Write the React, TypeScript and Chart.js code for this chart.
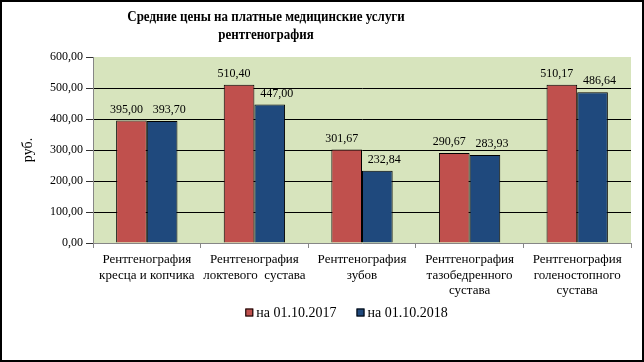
import React, { useEffect, useRef } from "react";
import { Chart, registerables } from "chart.js";

Chart.register(...registerables);

const TITLE_LINES = ["Средние цены на платные медицинские услуги", "рентгенография"];
const CATEGORIES: string[][] = [
  ["Рентгенография", "кресца и копчика"],
  ["Рентгенография", "локтевого  сустава"],
  ["Рентгенография", "зубов"],
  ["Рентгенография", "тазобедренного", "сустава"],
  ["Рентгенография", "голеностопного", "сустава"],
];
const SERIES_LABELS = ["на 01.10.2017", "на 01.10.2018"];
const SERIES_2017 = [395.0, 510.4, 301.67, 290.67, 510.17];
const SERIES_2018 = [393.7, 447.0, 232.84, 283.93, 486.64];
const Y_TITLE = "руб.";
const Y_MIN = 0;
const Y_MAX = 600;
const Y_STEP = 100;

const COLORS = ["#C0504D", "#1F497D"];
const PLOT_BG = "#D7E4BD";
const AXIS_GRAY = "#868686";
const FONT = "'Liberation Serif', 'DejaVu Serif', serif";

const fmt = (v: number) => v.toFixed(2).replace(".", ",");

const frameAndBgPlugin = {
  id: "frameAndBg",
  beforeDraw(chart: any) {
    const { ctx, chartArea } = chart;
    ctx.save();
    ctx.fillStyle = "#fff";
    ctx.fillRect(0, 0, chart.width, chart.height);
    ctx.fillStyle = PLOT_BG;
    ctx.fillRect(chartArea.left, chartArea.top, chartArea.right - chartArea.left, chartArea.bottom - chartArea.top);
    ctx.restore();
  },
  afterDraw(chart: any) {
    const { ctx } = chart;
    ctx.save();
    ctx.strokeStyle = "#000";
    ctx.lineWidth = 2;
    ctx.strokeRect(1, 1, chart.width - 2, chart.height - 2);
    ctx.restore();
  },
};

const titlePlugin = {
  id: "customTitle",
  afterDraw(chart: any) {
    const { ctx } = chart;
    ctx.save();
    ctx.fillStyle = "#000";
    ctx.font = `bold 15px ${FONT}`;
    ctx.textAlign = "center";
    ctx.textBaseline = "middle";
    const ys = [17, 35];
    TITLE_LINES.forEach((t, i) => {
      ctx.save();
      ctx.translate(266, ys[i]);
      ctx.scale(0.865, 1);
      ctx.fillText(t, 0, 0);
      ctx.restore();
    });
    ctx.restore();
  },
};

const legendPlugin = {
  id: "customLegend",
  afterDraw(chart: any) {
    const { ctx } = chart;
    ctx.save();
    ctx.font = `14px ${FONT}`;
    ctx.textBaseline = "middle";
    ctx.textAlign = "left";
    const box = 8;
    const boxGap = 3;
    const itemGap = 20;
    const ds = chart.data.datasets;
    const widths = ds.map((d: any) => box + boxGap + ctx.measureText(d.label).width);
    const total = widths.reduce((a: number, b: number) => a + b, 0) + itemGap * (ds.length - 1);
    let x = 346.5 - total / 2;
    const cy = 313;
    ds.forEach((d: any, i: number) => {
      ctx.fillStyle = d.backgroundColor;
      ctx.fillRect(x, cy - 4.5, box, box);
      ctx.strokeStyle = "#000";
      ctx.lineWidth = 1;
      ctx.strokeRect(x + 0.5, cy - 4, box - 1, box - 1);
      ctx.fillStyle = "#000";
      ctx.fillText(d.label, x + box + boxGap, cy);
      x += widths[i] + itemGap;
    });
    ctx.restore();
  },
};

const dataLabelPlugin = {
  id: "dataLabels",
  afterDatasetsDraw(chart: any) {
    const { ctx } = chart;
    const offsets = [-5, 7];
    ctx.save();
    ctx.font = `12px ${FONT}`;
    ctx.fillStyle = "#000";
    ctx.textAlign = "center";
    ctx.textBaseline = "bottom";
    chart.data.datasets.forEach((d: any, di: number) => {
      const meta = chart.getDatasetMeta(di);
      meta.data.forEach((bar: any, i: number) => {
        ctx.fillText(fmt(d.data[i]), bar.x + offsets[di], bar.y - 5);
      });
    });
    ctx.restore();
  },
};

export default function App() {
  const ref = useRef<HTMLCanvasElement | null>(null);

  useEffect(() => {
    if (!ref.current) return;
    const chart = new Chart(ref.current, {
      type: "bar",
      data: {
        labels: CATEGORIES,
        datasets: [
          {
            label: SERIES_LABELS[0],
            data: SERIES_2017,
            backgroundColor: COLORS[0],
            borderColor: "#000",
            borderWidth: 1,
          },
          {
            label: SERIES_LABELS[1],
            data: SERIES_2018,
            backgroundColor: COLORS[1],
            borderColor: "#000",
            borderWidth: 1,
          },
        ],
      },
      options: {
        responsive: false,
        animation: false,
        devicePixelRatio: 1,
        layout: { padding: { left: 0, right: 13, top: 57, bottom: 59 } },
        datasets: {
          bar: { barPercentage: 1, categoryPercentage: 0.57 },
        },
        plugins: {
          legend: { display: false },
          title: { display: false },
          tooltip: { enabled: false },
        },
        scales: {
          x: {
            afterFit: (s: any) => {
              s.height = 60;
            },
            grid: {
              drawOnChartArea: false,
              drawTicks: true,
              tickLength: 5,
              color: AXIS_GRAY,
              offset: true,
            },
            border: { color: AXIS_GRAY, width: 1 },
            ticks: {
              autoSkip: false,
              maxRotation: 0,
              minRotation: 0,
              color: "#000",
              padding: 4,
              font: { family: FONT, size: 13, lineHeight: 1.2 },
            },
          },
          y: {
            min: Y_MIN,
            max: Y_MAX,
            afterFit: (s: any) => {
              s.width = 93;
            },
            title: {
              display: true,
              text: Y_TITLE,
              color: "#000",
              font: { family: FONT, size: 14 },
              padding: { top: 20, bottom: 0 },
            },
            grid: {
              color: (c: any) =>
                c.tick && (c.tick.value === Y_MIN || c.tick.value === Y_MAX) ? "rgba(0,0,0,0)" : "#000",
              tickColor: "#333",
              tickLength: 7,
              drawTicks: true,
            },
            border: { color: AXIS_GRAY, width: 1 },
            ticks: {
              stepSize: Y_STEP,
              color: "#000",
              padding: 3,
              font: { family: FONT, size: 12 },
              callback: (v: any) => fmt(Number(v)),
            },
          },
        },
      },
      plugins: [frameAndBgPlugin, dataLabelPlugin, titlePlugin, legendPlugin],
    });
    return () => chart.destroy();
  }, []);

  return (
    <div style={{ position: "absolute", left: 0, top: 0, width: 644, height: 362 }}>
      <canvas ref={ref} width={644} height={362} style={{ display: "block", width: 644, height: 362 }} />
    </div>
  );
}
